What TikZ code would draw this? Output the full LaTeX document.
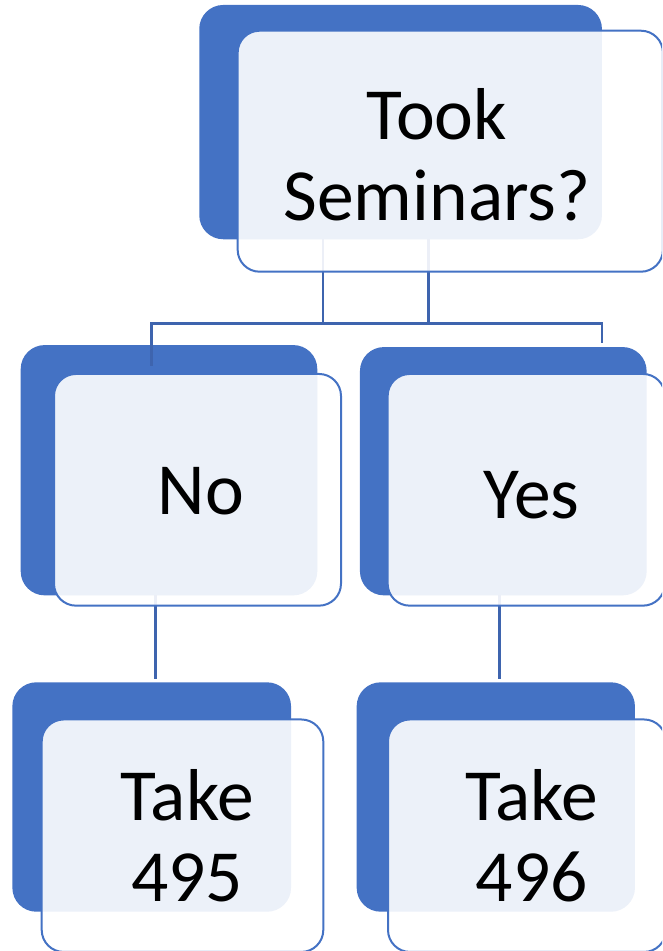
\documentclass[tikz,border=0pt]{standalone}
\usepackage{fontspec}
\setmainfont{Carlito}
\usetikzlibrary{calc}
\definecolor{smartblue}{RGB}{68,114,196}
\definecolor{linkblue}{RGB}{62,100,174}
\tikzset{
  back/.style={fill=smartblue, rounded corners=24pt, inner sep=0pt, outer sep=0pt},
  front/.style={draw=smartblue, line width=2pt, fill=white, fill opacity=0.9, rounded corners=22pt, inner sep=0pt, outer sep=0pt},
  link/.style={draw=linkblue, line width=2.6pt},
  boxtext/.style={align=center, inner sep=0pt, font=\fontsize{73.5}{81}\selectfont}
}

\begin{document}
\begin{tikzpicture}[x=1pt, y=-1pt]
  \useasboundingbox (0,0) rectangle (662,951);
  \clip (0,0) rectangle (662,951);

  \node[back, minimum width=402.7pt, minimum height=234.3pt] (seminarsBack) at (400.6,122.1) {};
  \node[back, minimum width=296.6pt, minimum height=250.3pt] (noBack) at (169,470.2) {};
  \node[back, minimum width=286.7pt, minimum height=248.3pt] (yesBack) at (503.3,471.2) {};
  \node[back, minimum width=278.7pt, minimum height=229.4pt] (takeNoBack) at (151.7,797) {};
  \node[back, minimum width=278.3pt, minimum height=229.4pt] (takeYesBack) at (495.8,797) {};

  \draw[link] ($(seminarsBack.south)+(28,0)$) -- ++(0,84.5) -| ($(noBack.north)+(-17.5,21)$);
  \draw[link] ($(seminarsBack.south)+(-77.5,0)$) -- ++(0,84.5) -| ($(yesBack.north)+(98.5,-4)$);
  \draw[link] ($(noBack.south)+(-13.7,0)$) -- ($(takeNoBack.north)+(3.6,-3)$);
  \draw[link] ($(yesBack.south)+(-4,0)$) -- ($(takeYesBack.north)+(3.5,-3)$);

  \node[front, minimum width=425.3pt, minimum height=241pt] (seminars) at (450.3,151.2) {};
  \node[front, minimum width=287pt, minimum height=231.7pt] (no) at (197.5,489.8) {};
  \node[front, minimum width=277.3pt, minimum height=231.7pt] (yes) at (526.3,489.8) {};
  \node[front, minimum width=281.6pt, minimum height=232.5pt] (takeNo) at (182.5,835.7) {};
  \node[front, minimum width=278pt, minimum height=232.5pt] (takeYes) at (527,835.7) {};

  \node[boxtext] (seminarsText) at (437,154.5) {Took\\Seminars?};
  \node[boxtext] (noText) at (201,491.5) {No};
  \node[boxtext] (yesText) at (531.5,495.2) {Yes};
  \node[boxtext] (takeNoText) at (187.3,835.6) {Take\\495};
  \node[boxtext] (takeYesText) at (531.8,835.6) {Take\\496};
\end{tikzpicture}
\end{document}
